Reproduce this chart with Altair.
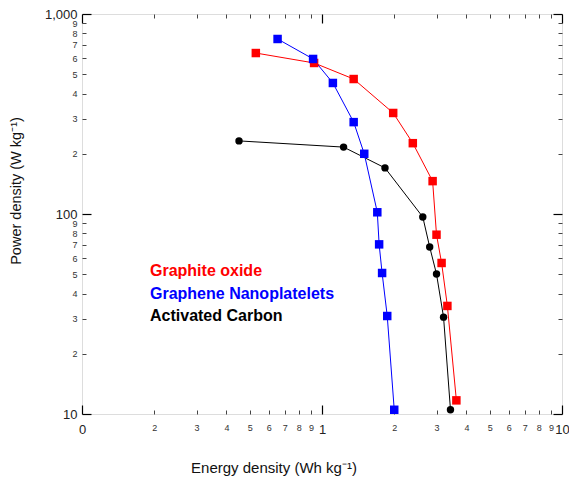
import altair as alt
import pandas as pd

# Data
go_energy = [0.53, 0.927, 1.355, 1.98, 2.39, 2.89, 3.0, 3.15, 3.33, 3.63]
go_power = [638, 569, 473, 320, 226, 146, 78.8, 56.9, 34.7, 11.7]

gnp_energy = [0.653, 0.918, 1.11, 1.355, 1.50, 1.70, 1.73, 1.78, 1.87, 2.0]
gnp_power = [750, 596, 452, 288, 200, 102, 70.5, 50.7, 30.9, 10.5]

ac_energy = [0.451, 1.23, 1.83, 2.63, 2.81, 3.0, 3.21, 3.43]
ac_power = [232, 216, 170, 96.6, 68.4, 50.1, 30.5, 10.5]

series_names = ["Activated Carbon", "Graphite oxide", "Graphene Nanoplatelets"]
series_colors = ["#000000", "#ff0000", "#0000ff"]

x_major = [0.1, 1, 10]
x_minor = [0.2, 0.3, 0.4, 0.5, 0.6, 0.7, 0.8, 0.9, 2, 3, 4, 5, 6, 7, 8, 9]
y_major = [10, 100, 1000]
y_minor = [20, 30, 40, 50, 60, 70, 80, 90, 200, 300, 400, 500, 600, 700, 800, 900]

rows = []
for name, xs_, ys_ in [("Activated Carbon", ac_energy, ac_power),
                       ("Graphite oxide", go_energy, go_power),
                       ("Graphene Nanoplatelets", gnp_energy, gnp_power)]:
    for i, (e, p) in enumerate(zip(xs_, ys_)):
        rows.append({"series": name, "energy": e, "power": p, "idx": i})
df = pd.DataFrame(rows)

FONT = "Liberation Sans"
W, H = 480, 400
xs = alt.Scale(type="log", domain=[0.1, 10], nice=False)
ys = alt.Scale(type="log", domain=[10, 1000], nice=False)
color = alt.Color("series:N", scale=alt.Scale(domain=series_names, range=series_colors), legend=None)

base = alt.Chart(df)

MAJ = 9
MIN = 4


def ax(orient, values, major, labels=True, expr=None):
    size = MAJ if major else MIN
    kw = dict(orient=orient, values=values, tickSize=size, offset=-size, domain=False,
              grid=False, title=None, labels=labels, labelOverlap=False, labelFlush=False,
              tickColor="#000000" if major else "#444444", tickWidth=1.2 if major else 1,
              labelFont=FONT, labelFontSize=13 if major else 9,
              labelColor="#222222" if major else "#333333")
    if labels:
        kw["labelPadding"] = 9 if orient == "bottom" else 5
        if expr:
            kw["labelExpr"] = expr
    return alt.Axis(**kw)


xexpr = "datum.value < 0.5 ? '0' : (datum.value < 5 ? '1' : '10')"
yexpr = "format(datum.value, ',')"


def axis_layer(xa, ya):
    return base.mark_point(opacity=0).encode(
        x=alt.X("energy:Q", scale=xs, axis=xa),
        y=alt.Y("power:Q", scale=ys, axis=ya),
    )


layers = [
    axis_layer(ax("bottom", x_major, True, True, xexpr), ax("left", y_major, True, True, yexpr)),
    axis_layer(ax("bottom", x_minor, False, True, "format(datum.value < 1 ? datum.value * 10 : datum.value, 'd')"),
               ax("left", y_minor, False, True, "format(datum.value < 100 ? datum.value / 10 : datum.value / 100, 'd')")),
    axis_layer(ax("top", x_major, True, False), ax("right", y_major, True, False)),
    axis_layer(ax("top", x_minor, False, False), ax("right", y_minor, False, False)),
]

lines = base.mark_line(strokeWidth=1, clip=True).encode(
    x=alt.X("energy:Q", scale=xs, axis=None),
    y=alt.Y("power:Q", scale=ys, axis=None),
    color=color,
    order="idx:Q",
    detail="series:N",
)

squares = base.transform_filter("datum.series != 'Activated Carbon'").mark_point(
    shape="square", filled=True, size=72, opacity=1).encode(
    x=alt.X("energy:Q", scale=xs, axis=None),
    y=alt.Y("power:Q", scale=ys, axis=None),
    color=color,
)

circles = base.transform_filter("datum.series == 'Activated Carbon'").mark_point(
    shape="circle", filled=True, size=55, opacity=1).encode(
    x=alt.X("energy:Q", scale=xs, axis=None),
    y=alt.Y("power:Q", scale=ys, axis=None),
    color=color,
)

legend_names = ["Graphite oxide", "Graphene Nanoplatelets", "Activated Carbon"]
legend_colors = ["#ff0000", "#0000ff", "#000000"]
legend_layers = []
for i, (n, c) in enumerate(zip(legend_names, legend_colors)):
    legend_layers.append(
        alt.Chart(pd.DataFrame({"t": [n]})).mark_text(
            font=FONT, fontSize=16, fontWeight="bold", color=c, align="left", baseline="middle"
        ).encode(text="t:N", x=alt.value(68), y=alt.value(257 + 22.5 * i))
    )

xtitle = alt.Chart(pd.DataFrame({"t": ["Energy density (Wh kg\u207b\u00b9)"]})).mark_text(
    font=FONT, fontSize=15, color="#111111", align="center", baseline="middle"
).encode(text="t:N", x=alt.value(192), y=alt.value(454))

ytitle = alt.Chart(pd.DataFrame({"t": ["Power density (W kg\u207b\u00b9)"]})).mark_text(
    font=FONT, fontSize=14.5, color="#111111", align="center", baseline="middle", angle=270
).encode(text="t:N", x=alt.value(-65), y=alt.value(177))

chart = alt.layer(*layers, lines, squares, circles, *legend_layers, xtitle, ytitle).resolve_axis(
    x="independent", y="independent"
).properties(
    width=W, height=H,
    autosize=alt.AutoSizeParams(type="none"),
    padding={"left": 74, "top": 6, "right": 7, "bottom": 65},
).configure_view(stroke="#000000", strokeWidth=2).configure(background="white")

chart.save("out.html", embed_options={"renderer": "svg", "actions": False})
